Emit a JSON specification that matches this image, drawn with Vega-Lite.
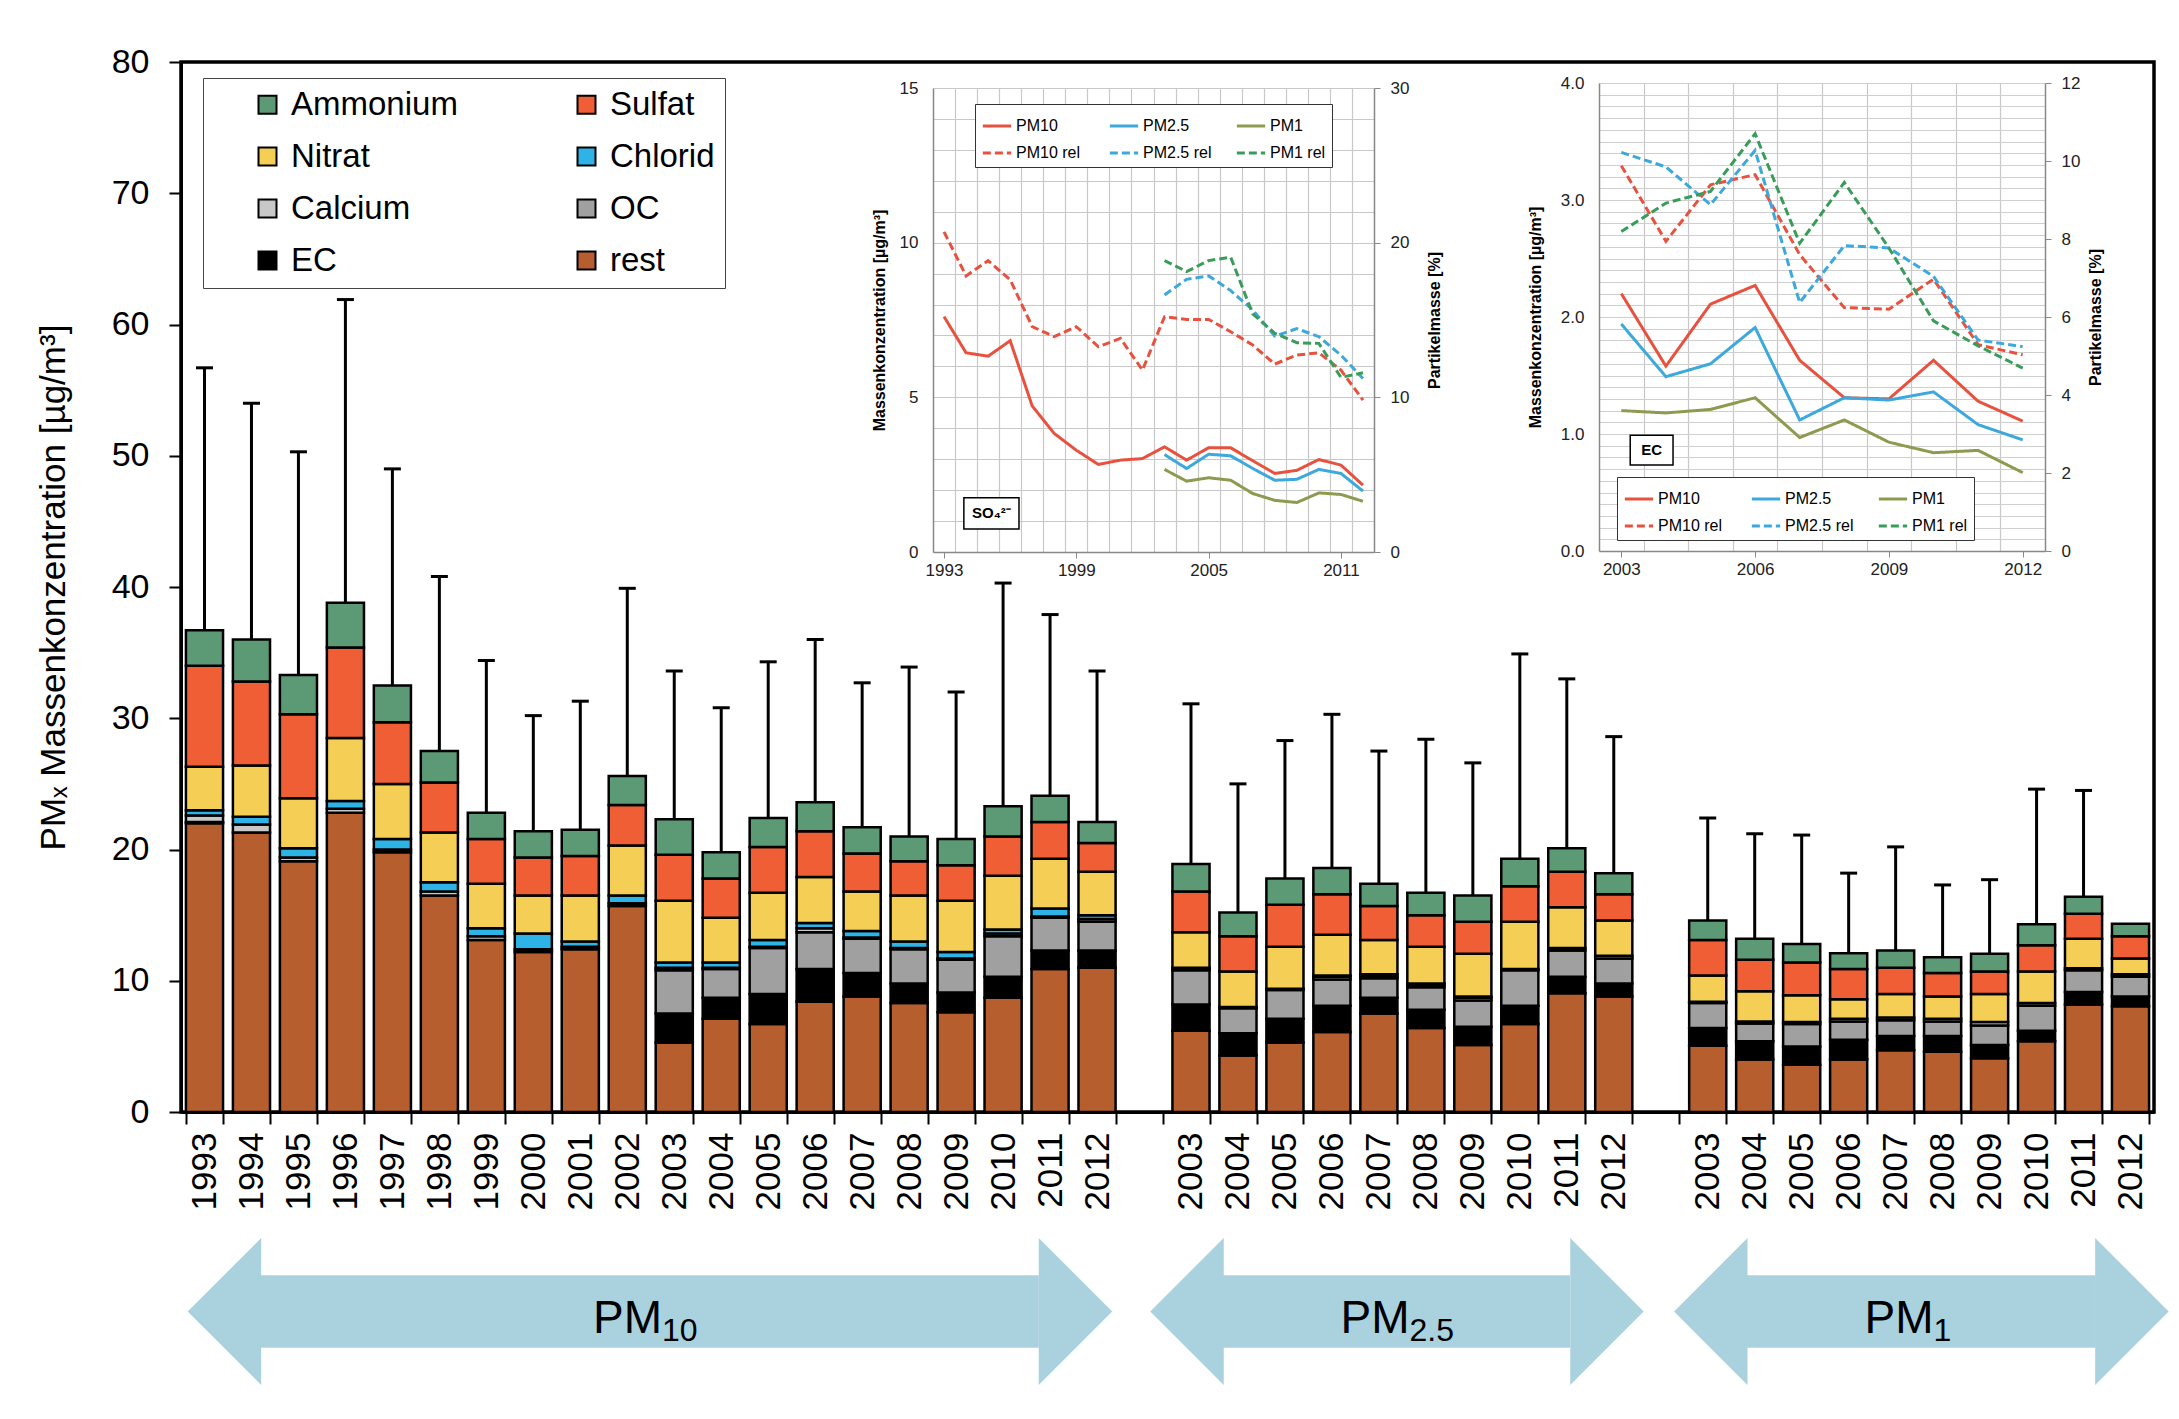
{
  "$schema": "https://vega.github.io/schema/vega-lite/v6.json",
  "width": 1973,
  "height": 1050,
  "autosize": {"type": "none"},
  "padding": {"left": 181, "top": 62, "right": 25, "bottom": 307},
  "background": "white",
  "config": {
    "font": "Liberation Sans",
    "view": {"stroke": "black", "strokeWidth": 3.5}
  },
  "datasets": {
    "bars": [
      {"g":"PM10","yr":1993,"rest":22.0,"EC":0.1,"OC":0,"Calcium":0.5,"Chlorid":0.4,"Nitrat":3.3,"Sulfat":7.7,"Ammonium":2.7,"err":56.7},
      {"g":"PM10","yr":1994,"rest":21.3,"EC":0,"OC":0,"Calcium":0.6,"Chlorid":0.6,"Nitrat":3.9,"Sulfat":6.4,"Ammonium":3.2,"err":54.0},
      {"g":"PM10","yr":1995,"rest":19.1,"EC":0,"OC":0,"Calcium":0.3,"Chlorid":0.7,"Nitrat":3.8,"Sulfat":6.4,"Ammonium":3.0,"err":50.3},
      {"g":"PM10","yr":1996,"rest":22.8,"EC":0,"OC":0,"Calcium":0.3,"Chlorid":0.6,"Nitrat":4.8,"Sulfat":6.9,"Ammonium":3.4,"err":61.9},
      {"g":"PM10","yr":1997,"rest":19.8,"EC":0.2,"OC":0,"Calcium":0,"Chlorid":0.8,"Nitrat":4.2,"Sulfat":4.7,"Ammonium":2.8,"err":49.0},
      {"g":"PM10","yr":1998,"rest":16.5,"EC":0,"OC":0,"Calcium":0.3,"Chlorid":0.7,"Nitrat":3.8,"Sulfat":3.8,"Ammonium":2.4,"err":40.8},
      {"g":"PM10","yr":1999,"rest":13.1,"EC":0,"OC":0,"Calcium":0.3,"Chlorid":0.6,"Nitrat":3.4,"Sulfat":3.4,"Ammonium":2.0,"err":34.4},
      {"g":"PM10","yr":2000,"rest":12.2,"EC":0.2,"OC":0,"Calcium":0,"Chlorid":1.2,"Nitrat":2.9,"Sulfat":2.9,"Ammonium":2.0,"err":30.2},
      {"g":"PM10","yr":2001,"rest":12.4,"EC":0,"OC":0,"Calcium":0.2,"Chlorid":0.4,"Nitrat":3.5,"Sulfat":3.0,"Ammonium":2.0,"err":31.3},
      {"g":"PM10","yr":2002,"rest":15.7,"EC":0.2,"OC":0,"Calcium":0,"Chlorid":0.6,"Nitrat":3.8,"Sulfat":3.1,"Ammonium":2.2,"err":39.9},
      {"g":"PM10","yr":2003,"rest":5.3,"EC":2.2,"OC":3.3,"Calcium":0.2,"Chlorid":0.4,"Nitrat":4.7,"Sulfat":3.5,"Ammonium":2.7,"err":33.6},
      {"g":"PM10","yr":2004,"rest":7.1,"EC":1.6,"OC":2.2,"Calcium":0.1,"Chlorid":0.4,"Nitrat":3.4,"Sulfat":3.0,"Ammonium":2.0,"err":30.8},
      {"g":"PM10","yr":2005,"rest":6.7,"EC":2.3,"OC":3.5,"Calcium":0.1,"Chlorid":0.5,"Nitrat":3.6,"Sulfat":3.5,"Ammonium":2.2,"err":34.3},
      {"g":"PM10","yr":2006,"rest":8.4,"EC":2.5,"OC":2.8,"Calcium":0.3,"Chlorid":0.4,"Nitrat":3.5,"Sulfat":3.5,"Ammonium":2.2,"err":36.0},
      {"g":"PM10","yr":2007,"rest":8.8,"EC":1.8,"OC":2.6,"Calcium":0.1,"Chlorid":0.5,"Nitrat":3.0,"Sulfat":2.9,"Ammonium":2.0,"err":32.7},
      {"g":"PM10","yr":2008,"rest":8.3,"EC":1.5,"OC":2.6,"Calcium":0.1,"Chlorid":0.5,"Nitrat":3.5,"Sulfat":2.6,"Ammonium":1.9,"err":33.9},
      {"g":"PM10","yr":2009,"rest":7.6,"EC":1.5,"OC":2.5,"Calcium":0.1,"Chlorid":0.5,"Nitrat":3.9,"Sulfat":2.7,"Ammonium":2.0,"err":32.0},
      {"g":"PM10","yr":2010,"rest":8.7,"EC":1.6,"OC":3.1,"Calcium":0.2,"Chlorid":0.3,"Nitrat":4.1,"Sulfat":3.0,"Ammonium":2.3,"err":40.3},
      {"g":"PM10","yr":2011,"rest":10.9,"EC":1.4,"OC":2.5,"Calcium":0.1,"Chlorid":0.6,"Nitrat":3.8,"Sulfat":2.8,"Ammonium":2.0,"err":37.9},
      {"g":"PM10","yr":2012,"rest":11.0,"EC":1.3,"OC":2.2,"Calcium":0.2,"Chlorid":0.3,"Nitrat":3.3,"Sulfat":2.2,"Ammonium":1.6,"err":33.6},
      {"g":"PM2.5","yr":2003,"rest":6.2,"EC":2.0,"OC":2.6,"Calcium":0.1,"Chlorid":0.1,"Nitrat":2.7,"Sulfat":3.1,"Ammonium":2.1,"err":31.1},
      {"g":"PM2.5","yr":2004,"rest":4.3,"EC":1.7,"OC":1.9,"Calcium":0.1,"Chlorid":0,"Nitrat":2.7,"Sulfat":2.7,"Ammonium":1.8,"err":25.0},
      {"g":"PM2.5","yr":2005,"rest":5.3,"EC":1.8,"OC":2.2,"Calcium":0.1,"Chlorid":0,"Nitrat":3.2,"Sulfat":3.2,"Ammonium":2.0,"err":28.3},
      {"g":"PM2.5","yr":2006,"rest":6.1,"EC":2.0,"OC":2.0,"Calcium":0.2,"Chlorid":0.1,"Nitrat":3.1,"Sulfat":3.1,"Ammonium":2.0,"err":30.3},
      {"g":"PM2.5","yr":2007,"rest":7.5,"EC":1.2,"OC":1.5,"Calcium":0.1,"Chlorid":0.2,"Nitrat":2.6,"Sulfat":2.6,"Ammonium":1.7,"err":27.5},
      {"g":"PM2.5","yr":2008,"rest":6.4,"EC":1.4,"OC":1.7,"Calcium":0.2,"Chlorid":0.1,"Nitrat":2.8,"Sulfat":2.4,"Ammonium":1.7,"err":28.4},
      {"g":"PM2.5","yr":2009,"rest":5.1,"EC":1.4,"OC":2.0,"Calcium":0.2,"Chlorid":0.1,"Nitrat":3.25,"Sulfat":2.45,"Ammonium":2.0,"err":26.6},
      {"g":"PM2.5","yr":2010,"rest":6.7,"EC":1.4,"OC":2.7,"Calcium":0.1,"Chlorid":0,"Nitrat":3.6,"Sulfat":2.7,"Ammonium":2.1,"err":34.9},
      {"g":"PM2.5","yr":2011,"rest":9.05,"EC":1.25,"OC":2.0,"Calcium":0.2,"Chlorid":0,"Nitrat":3.1,"Sulfat":2.7,"Ammonium":1.8,"err":33.0},
      {"g":"PM2.5","yr":2012,"rest":8.8,"EC":1.0,"OC":1.9,"Calcium":0.2,"Chlorid":0,"Nitrat":2.7,"Sulfat":2.0,"Ammonium":1.6,"err":28.6},
      {"g":"PM1","yr":2003,"rest":5.05,"EC":1.35,"OC":1.9,"Calcium":0.1,"Chlorid":0,"Nitrat":2.0,"Sulfat":2.7,"Ammonium":1.5,"err":22.4},
      {"g":"PM1","yr":2004,"rest":4.0,"EC":1.4,"OC":1.35,"Calcium":0.15,"Chlorid":0,"Nitrat":2.3,"Sulfat":2.4,"Ammonium":1.6,"err":21.2},
      {"g":"PM1","yr":2005,"rest":3.6,"EC":1.4,"OC":1.7,"Calcium":0.15,"Chlorid":0,"Nitrat":2.05,"Sulfat":2.5,"Ammonium":1.4,"err":21.1},
      {"g":"PM1","yr":2006,"rest":4.0,"EC":1.5,"OC":1.4,"Calcium":0.2,"Chlorid":0,"Nitrat":1.5,"Sulfat":2.3,"Ammonium":1.2,"err":18.2},
      {"g":"PM1","yr":2007,"rest":4.7,"EC":1.1,"OC":1.2,"Calcium":0.2,"Chlorid":0,"Nitrat":1.8,"Sulfat":2.0,"Ammonium":1.3,"err":20.2},
      {"g":"PM1","yr":2008,"rest":4.6,"EC":1.2,"OC":1.1,"Calcium":0.2,"Chlorid":0,"Nitrat":1.7,"Sulfat":1.8,"Ammonium":1.2,"err":17.3},
      {"g":"PM1","yr":2009,"rest":4.1,"EC":1.0,"OC":1.5,"Calcium":0.25,"Chlorid":0,"Nitrat":2.15,"Sulfat":1.7,"Ammonium":1.35,"err":17.7},
      {"g":"PM1","yr":2010,"rest":5.4,"EC":0.8,"OC":1.9,"Calcium":0.2,"Chlorid":0,"Nitrat":2.4,"Sulfat":2.0,"Ammonium":1.6,"err":24.6},
      {"g":"PM1","yr":2011,"rest":8.2,"EC":0.95,"OC":1.65,"Calcium":0.15,"Chlorid":0,"Nitrat":2.25,"Sulfat":1.9,"Ammonium":1.3,"err":24.5},
      {"g":"PM1","yr":2012,"rest":8.05,"EC":0.75,"OC":1.5,"Calcium":0.2,"Chlorid":0,"Nitrat":1.2,"Sulfat":1.7,"Ammonium":0.95,"err":null}
    ],
    "so4": [
      {"s":"PM10","yr":1993,"v":7.61},{"s":"PM10","yr":1994,"v":6.44},{"s":"PM10","yr":1995,"v":6.33},{"s":"PM10","yr":1996,"v":6.83},{"s":"PM10","yr":1997,"v":4.72},
      {"s":"PM10","yr":1998,"v":3.83},{"s":"PM10","yr":1999,"v":3.29},{"s":"PM10","yr":2000,"v":2.83},{"s":"PM10","yr":2001,"v":2.97},{"s":"PM10","yr":2002,"v":3.02},
      {"s":"PM10","yr":2003,"v":3.40},{"s":"PM10","yr":2004,"v":2.97},{"s":"PM10","yr":2005,"v":3.37},{"s":"PM10","yr":2006,"v":3.37},{"s":"PM10","yr":2007,"v":2.95},
      {"s":"PM10","yr":2008,"v":2.54},{"s":"PM10","yr":2009,"v":2.64},{"s":"PM10","yr":2010,"v":2.99},{"s":"PM10","yr":2011,"v":2.81},{"s":"PM10","yr":2012,"v":2.16},
      {"s":"PM2.5","yr":2003,"v":3.15},{"s":"PM2.5","yr":2004,"v":2.70},{"s":"PM2.5","yr":2005,"v":3.16},{"s":"PM2.5","yr":2006,"v":3.11},{"s":"PM2.5","yr":2007,"v":2.70},
      {"s":"PM2.5","yr":2008,"v":2.32},{"s":"PM2.5","yr":2009,"v":2.35},{"s":"PM2.5","yr":2010,"v":2.67},{"s":"PM2.5","yr":2011,"v":2.54},{"s":"PM2.5","yr":2012,"v":1.97},
      {"s":"PM1","yr":2003,"v":2.67},{"s":"PM1","yr":2004,"v":2.29},{"s":"PM1","yr":2005,"v":2.40},{"s":"PM1","yr":2006,"v":2.32},{"s":"PM1","yr":2007,"v":1.89},
      {"s":"PM1","yr":2008,"v":1.67},{"s":"PM1","yr":2009,"v":1.60},{"s":"PM1","yr":2010,"v":1.91},{"s":"PM1","yr":2011,"v":1.86},{"s":"PM1","yr":2012,"v":1.64},
      {"s":"PM10 rel","yr":1993,"v":20.7},{"s":"PM10 rel","yr":1994,"v":17.85},{"s":"PM10 rel","yr":1995,"v":18.84},{"s":"PM10 rel","yr":1996,"v":17.6},{"s":"PM10 rel","yr":1997,"v":14.57},
      {"s":"PM10 rel","yr":1998,"v":13.92},{"s":"PM10 rel","yr":1999,"v":14.57},{"s":"PM10 rel","yr":2000,"v":13.27},{"s":"PM10 rel","yr":2001,"v":13.81},{"s":"PM10 rel","yr":2002,"v":11.76},
      {"s":"PM10 rel","yr":2003,"v":15.21},{"s":"PM10 rel","yr":2004,"v":15.04},{"s":"PM10 rel","yr":2005,"v":15.04},{"s":"PM10 rel","yr":2006,"v":14.24},{"s":"PM10 rel","yr":2007,"v":13.38},
      {"s":"PM10 rel","yr":2008,"v":12.15},{"s":"PM10 rel","yr":2009,"v":12.73},{"s":"PM10 rel","yr":2010,"v":12.88},{"s":"PM10 rel","yr":2011,"v":11.76},{"s":"PM10 rel","yr":2012,"v":9.82},
      {"s":"PM2.5 rel","yr":2003,"v":16.62},{"s":"PM2.5 rel","yr":2004,"v":17.63},{"s":"PM2.5 rel","yr":2005,"v":17.85},{"s":"PM2.5 rel","yr":2006,"v":16.9},{"s":"PM2.5 rel","yr":2007,"v":15.65},
      {"s":"PM2.5 rel","yr":2008,"v":13.96},{"s":"PM2.5 rel","yr":2009,"v":14.44},{"s":"PM2.5 rel","yr":2010,"v":13.92},{"s":"PM2.5 rel","yr":2011,"v":12.73},{"s":"PM2.5 rel","yr":2012,"v":11.22},
      {"s":"PM1 rel","yr":2003,"v":18.84},{"s":"PM1 rel","yr":2004,"v":18.13},{"s":"PM1 rel","yr":2005,"v":18.84},{"s":"PM1 rel","yr":2006,"v":19.06},{"s":"PM1 rel","yr":2007,"v":15.39},
      {"s":"PM1 rel","yr":2008,"v":14.14},{"s":"PM1 rel","yr":2009,"v":13.53},{"s":"PM1 rel","yr":2010,"v":13.49},{"s":"PM1 rel","yr":2011,"v":11.29},{"s":"PM1 rel","yr":2012,"v":11.59}
    ],
    "ec": [
      {"s":"PM10","yr":2003,"v":2.20},{"s":"PM10","yr":2004,"v":1.58},{"s":"PM10","yr":2005,"v":2.11},{"s":"PM10","yr":2006,"v":2.27},{"s":"PM10","yr":2007,"v":1.63},
      {"s":"PM10","yr":2008,"v":1.31},{"s":"PM10","yr":2009,"v":1.30},{"s":"PM10","yr":2010,"v":1.63},{"s":"PM10","yr":2011,"v":1.28},{"s":"PM10","yr":2012,"v":1.11},
      {"s":"PM2.5","yr":2003,"v":1.94},{"s":"PM2.5","yr":2004,"v":1.49},{"s":"PM2.5","yr":2005,"v":1.60},{"s":"PM2.5","yr":2006,"v":1.91},{"s":"PM2.5","yr":2007,"v":1.12},
      {"s":"PM2.5","yr":2008,"v":1.31},{"s":"PM2.5","yr":2009,"v":1.29},{"s":"PM2.5","yr":2010,"v":1.36},{"s":"PM2.5","yr":2011,"v":1.08},{"s":"PM2.5","yr":2012,"v":0.95},
      {"s":"PM1","yr":2003,"v":1.20},{"s":"PM1","yr":2004,"v":1.18},{"s":"PM1","yr":2005,"v":1.21},{"s":"PM1","yr":2006,"v":1.31},{"s":"PM1","yr":2007,"v":0.97},
      {"s":"PM1","yr":2008,"v":1.12},{"s":"PM1","yr":2009,"v":0.93},{"s":"PM1","yr":2010,"v":0.84},{"s":"PM1","yr":2011,"v":0.86},{"s":"PM1","yr":2012,"v":0.67},
      {"s":"PM10 rel","yr":2003,"v":9.88},{"s":"PM10 rel","yr":2004,"v":7.94},{"s":"PM10 rel","yr":2005,"v":9.39},{"s":"PM10 rel","yr":2006,"v":9.65},{"s":"PM10 rel","yr":2007,"v":7.6},
      {"s":"PM10 rel","yr":2008,"v":6.24},{"s":"PM10 rel","yr":2009,"v":6.2},{"s":"PM10 rel","yr":2010,"v":6.97},{"s":"PM10 rel","yr":2011,"v":5.29},{"s":"PM10 rel","yr":2012,"v":5.03},
      {"s":"PM2.5 rel","yr":2003,"v":10.22},{"s":"PM2.5 rel","yr":2004,"v":9.85},{"s":"PM2.5 rel","yr":2005,"v":8.88},{"s":"PM2.5 rel","yr":2006,"v":10.27},{"s":"PM2.5 rel","yr":2007,"v":6.37},
      {"s":"PM2.5 rel","yr":2008,"v":7.83},{"s":"PM2.5 rel","yr":2009,"v":7.77},{"s":"PM2.5 rel","yr":2010,"v":7.04},{"s":"PM2.5 rel","yr":2011,"v":5.41},{"s":"PM2.5 rel","yr":2012,"v":5.24},
      {"s":"PM1 rel","yr":2003,"v":8.19},{"s":"PM1 rel","yr":2004,"v":8.92},{"s":"PM1 rel","yr":2005,"v":9.22},{"s":"PM1 rel","yr":2006,"v":10.7},{"s":"PM1 rel","yr":2007,"v":7.89},
      {"s":"PM1 rel","yr":2008,"v":9.45},{"s":"PM1 rel","yr":2009,"v":7.77},{"s":"PM1 rel","yr":2010,"v":5.9},{"s":"PM1 rel","yr":2011,"v":5.26},{"s":"PM1 rel","yr":2012,"v":4.69}
    ],
    "box1": [{"bx1":1993.9,"bx2":1996.4,"by1":0.74,"by2":1.75,"xc":1995.15,"yc":1.245,"t":"SO₄²⁻"}],
    "box2": [{"bx1":2003.2,"bx2":2004.16,"by1":0.735,"by2":0.99,"xc":2003.68,"yc":0.862,"t":"EC"}],
    "arrows": [
      {"a":"PM10","tl":0.15,"bl":1.70,"br":18.26,"tr":19.82},
      {"a":"PM2.5","tl":20.65,"bl":22.18,"br":29.57,"tr":31.14},
      {"a":"PM1","tl":31.80,"bl":33.33,"br":40.76,"tr":42.30}
    ],
    "arrowlabels": [
      {"a":"PM10","c":9.985,"m":"PM","sub":"10","z":0},
      {"a":"PM2.5","c":25.895,"m":"PM","sub":"2.5","z":0},
      {"a":"PM1","c":37.05,"m":"PM","sub":"1","z":0}
    ]
  },
  "resolve": {
    "scale": {"x": "independent", "y": "independent", "color": "independent", "strokeDash": "independent"},
    "axis": {"x": "independent", "y": "independent"},
    "legend": {"color": "independent", "strokeDash": "independent"}
  },
  "layer": [
    {
      "data": {"name": "bars"},
      "transform": [
        {"calculate": "datum.g + ' ' + datum.yr", "as": "key"},
        {"fold": ["rest","EC","OC","Calcium","Chlorid","Nitrat","Sulfat","Ammonium"], "as": ["c","v"]},
        {"filter": "datum.v > 0"},
        {"calculate": "indexof(['rest','EC','OC','Calcium','Chlorid','Nitrat','Sulfat','Ammonium'], datum.c)", "as": "k"}
      ],
      "mark": {"type": "bar", "stroke": "black", "strokeWidth": 2.5},
      "encoding": {
        "x": {
          "field": "key", "type": "nominal",
          "scale": {"type": "band", "paddingInner": 0.21, "paddingOuter": 0.105,
            "domain": ["PM10 1993","PM10 1994","PM10 1995","PM10 1996","PM10 1997","PM10 1998","PM10 1999","PM10 2000","PM10 2001","PM10 2002","PM10 2003","PM10 2004","PM10 2005","PM10 2006","PM10 2007","PM10 2008","PM10 2009","PM10 2010","PM10 2011","PM10 2012","gap1","PM2.5 2003","PM2.5 2004","PM2.5 2005","PM2.5 2006","PM2.5 2007","PM2.5 2008","PM2.5 2009","PM2.5 2010","PM2.5 2011","PM2.5 2012","gap2","PM1 2003","PM1 2004","PM1 2005","PM1 2006","PM1 2007","PM1 2008","PM1 2009","PM1 2010","PM1 2011","PM1 2012"]},
          "axis": {"orient": "bottom", "title": null, "grid": false,
            "labelExpr": "indexof(datum.label + '', 'gap') === 0 ? '' : substring(datum.label + '', length(datum.label + '') - 4)",
            "labelAngle": 270, "labelFontSize": 35, "labelPadding": 8, "labelColor": "black",
            "labelAlign": "right", "labelBaseline": "middle",
            "tickBand": "extent", "tickSize": 12, "tickWidth": 2, "tickColor": "black",
            "domainColor": "black", "domainWidth": 3}
        },
        "y": {
          "field": "v", "type": "quantitative", "stack": "zero",
          "scale": {"domain": [0, 80], "nice": false},
          "axis": {"orient": "left", "title": "PMₓ Massenkonzentration [µg/m³]", "grid": false,
            "values": [0,10,20,30,40,50,60,70,80],
            "tickSize": 12, "tickWidth": 2, "tickColor": "black", "domainColor": "black", "domainWidth": 3,
            "labelFontSize": 34, "labelPadding": 20, "labelColor": "black",
            "titleFontSize": 35, "titleFontWeight": "normal", "titleColor": "black", "titlePadding": 40}
        },
        "color": {
          "field": "c", "type": "nominal",
          "scale": {"domain": ["Ammonium","Nitrat","Calcium","EC","Sulfat","Chlorid","OC","rest"],
                    "range": ["#5c9a76","#f5cf55","#c8c8c8","#000000","#f05e35","#2eb3e6","#a0a0a0","#b65e2e"]},
          "legend": {"orient": "none", "legendX": 22, "legendY": 16, "columns": 2, "gridAlign": "all",
            "title": "\u00a0", "titleOrient": "left", "titleFontSize": 10, "titlePadding": 38, "titleColor": "white",
            "symbolType": "square", "symbolSize": 324, "symbolStrokeColor": "black", "symbolStrokeWidth": 2, "symbolOpacity": 1,
            "labelFontSize": 33, "labelColor": "black", "labelOffset": 7, "labelLimit": 400,
            "rowPadding": 18, "columnPadding": 112, "padding": 10,
            "strokeColor": "#444", "fillColor": "white"}
        },
        "order": {"field": "k", "type": "quantitative"}
      }
    },
    {
      "data": {"name": "bars"},
      "transform": [
        {"filter": "isValid(datum.err)"},
        {"calculate": "datum.g + ' ' + datum.yr", "as": "key"},
        {"calculate": "datum.rest + datum.EC + datum.OC + datum.Calcium + datum.Chlorid + datum.Nitrat + datum.Sulfat + datum.Ammonium", "as": "tot"}
      ],
      "mark": {"type": "rule", "strokeWidth": 3, "color": "black"},
      "encoding": {
        "x": {"field": "key", "type": "nominal", "axis": null,
          "scale": {"type": "band", "paddingInner": 0.21, "paddingOuter": 0.105,
            "domain": ["PM10 1993","PM10 1994","PM10 1995","PM10 1996","PM10 1997","PM10 1998","PM10 1999","PM10 2000","PM10 2001","PM10 2002","PM10 2003","PM10 2004","PM10 2005","PM10 2006","PM10 2007","PM10 2008","PM10 2009","PM10 2010","PM10 2011","PM10 2012","gap1","PM2.5 2003","PM2.5 2004","PM2.5 2005","PM2.5 2006","PM2.5 2007","PM2.5 2008","PM2.5 2009","PM2.5 2010","PM2.5 2011","PM2.5 2012","gap2","PM1 2003","PM1 2004","PM1 2005","PM1 2006","PM1 2007","PM1 2008","PM1 2009","PM1 2010","PM1 2011","PM1 2012"]}},
        "y": {"field": "tot", "type": "quantitative", "axis": null, "scale": {"domain": [0, 80], "nice": false}},
        "y2": {"field": "err"}
      }
    },
    {
      "data": {"name": "bars"},
      "transform": [
        {"filter": "isValid(datum.err)"},
        {"calculate": "datum.g + ' ' + datum.yr", "as": "key"}
      ],
      "mark": {"type": "tick", "size": 17, "thickness": 3, "color": "black", "opacity": 1},
      "encoding": {
        "x": {"field": "key", "type": "nominal", "axis": null,
          "scale": {"type": "band", "paddingInner": 0.21, "paddingOuter": 0.105,
            "domain": ["PM10 1993","PM10 1994","PM10 1995","PM10 1996","PM10 1997","PM10 1998","PM10 1999","PM10 2000","PM10 2001","PM10 2002","PM10 2003","PM10 2004","PM10 2005","PM10 2006","PM10 2007","PM10 2008","PM10 2009","PM10 2010","PM10 2011","PM10 2012","gap1","PM2.5 2003","PM2.5 2004","PM2.5 2005","PM2.5 2006","PM2.5 2007","PM2.5 2008","PM2.5 2009","PM2.5 2010","PM2.5 2011","PM2.5 2012","gap2","PM1 2003","PM1 2004","PM1 2005","PM1 2006","PM1 2007","PM1 2008","PM1 2009","PM1 2010","PM1 2011","PM1 2012"]}},
        "y": {"field": "err", "type": "quantitative", "axis": null, "scale": {"domain": [0, 80], "nice": false}}
      }
    },
    {
      "data": {"name": "so4"},
      "transform": [{"filter": "indexof(datum.s, 'rel') < 0"}],
      "mark": {"type": "line", "strokeWidth": 3},
      "encoding": {
        "x": {"field": "yr", "type": "quantitative",
          "scale": {"domain": [1992.5, 2012.5], "range": [752, 1193], "nice": false, "zero": false},
          "axis": {"orient": "bottom", "offset": -560, "title": null, "grid": false,
            "values": [1993, 1999, 2005, 2011], "format": "d",
            "labelFontSize": 17, "labelPadding": 4, "labelColor": "#222",
            "domainColor": "#888", "domainWidth": 1.5, "tickColor": "#888", "tickSize": 6}},
        "y": {"field": "v", "type": "quantitative",
          "scale": {"domain": [0, 15], "range": [490, 26], "nice": false, "zero": false},
          "axis": {"orient": "left", "offset": -752, "values": [0, 5, 10, 15], "grid": false,
            "domainColor": "#888", "domainWidth": 1.5, "tickSize": 0,
            "labelFontSize": 17, "labelPadding": 15, "labelColor": "#222",
            "title": "Massenkonzentration  [µg/m³]", "titleFontSize": 16, "titleFontWeight": "bold", "titleColor": "black", "titlePadding": 12}},
        "color": {"field": "s", "type": "nominal",
          "scale": {"domain": ["PM10","PM10 rel","PM2.5","PM2.5 rel","PM1","PM1 rel"],
                    "range": ["#e8513e","#e8513e","#3ca8dc","#3ca8dc","#8c9b4f","#3a9c5a"]},
          "legend": {"orient": "none", "legendX": 794, "legendY": 42, "columns": 3, "gridAlign": "all", "title": null,
            "symbolType": "stroke", "symbolSize": 800, "symbolStrokeWidth": 3,
            "labelFontSize": 16, "labelColor": "black", "labelOffset": 3, "labelLimit": 300,
            "rowPadding": 3, "columnPadding": 18, "padding": 6,
            "strokeColor": "#333", "fillColor": "white"}},
        "strokeDash": {"field": "s", "type": "nominal",
          "scale": {"domain": ["PM10","PM10 rel","PM2.5","PM2.5 rel","PM1","PM1 rel"],
                    "range": [[1,0],[8,4],[1,0],[8,4],[1,0],[8,4]]},
          "legend": {"orient": "none", "legendX": 794, "legendY": 42, "columns": 3, "gridAlign": "all", "title": null,
            "symbolType": "stroke", "symbolSize": 800, "symbolStrokeWidth": 3,
            "labelFontSize": 16, "labelColor": "black", "labelOffset": 3, "labelLimit": 300,
            "rowPadding": 3, "columnPadding": 18, "padding": 6,
            "strokeColor": "#333", "fillColor": "white"}}
      }
    },
    {
      "data": {"name": "so4"},
      "transform": [{"filter": "indexof(datum.s, 'rel') >= 0"}],
      "mark": {"type": "line", "strokeWidth": 3},
      "encoding": {
        "x": {"field": "yr", "type": "quantitative",
          "scale": {"domain": [1992.5, 2012.5], "range": [752, 1193], "nice": false, "zero": false},
          "axis": {"orient": "top", "offset": -26, "title": null, "labels": false, "ticks": false, "domain": false,
            "values": [1993.5,1994.5,1995.5,1996.5,1997.5,1998.5,1999.5,2000.5,2001.5,2002.5,2003.5,2004.5,2005.5,2006.5,2007.5,2008.5,2009.5,2010.5,2011.5],
            "grid": true, "gridColor": "#c8c8c8", "gridWidth": 1.2}},
        "y": {"field": "v", "type": "quantitative",
          "scale": {"domain": [0, 30], "range": [490, 26], "nice": false, "zero": false},
          "axis": {"orient": "right", "offset": -780, "values": [0,10,20,30], "grid": false,
            "domainColor": "#888", "domainWidth": 1.5, "tickColor": "#888", "tickSize": 6,
            "labelFontSize": 17, "labelPadding": 10, "labelColor": "#222",
            "title": "Partikelmasse [%]", "titleFontSize": 16, "titleFontWeight": "bold", "titleColor": "black",
            "titleAngle": 270, "titleBaseline": "top", "titlePadding": 18}},
        "color": {"field": "s", "type": "nominal", "legend": null,
          "scale": {"domain": ["PM10","PM10 rel","PM2.5","PM2.5 rel","PM1","PM1 rel"],
                    "range": ["#e8513e","#e8513e","#3ca8dc","#3ca8dc","#8c9b4f","#3a9c5a"]}},
        "strokeDash": {"field": "s", "type": "nominal", "legend": null,
          "scale": {"domain": ["PM10","PM10 rel","PM2.5","PM2.5 rel","PM1","PM1 rel"],
                    "range": [[1,0],[8,4],[1,0],[8,4],[1,0],[8,4]]}}
      }
    },
    {
      "data": {"name": "box1"},
      "mark": {"type": "rect", "fill": "white", "stroke": "black", "strokeWidth": 1.5},
      "encoding": {
        "x": {"field": "bx1", "type": "quantitative", "axis": null, "scale": {"domain": [1992.5, 2012.5], "range": [752, 1193], "nice": false, "zero": false}},
        "x2": {"field": "bx2"},
        "y": {"field": "by1", "type": "quantitative", "scale": {"domain": [0, 15], "range": [490, 26], "nice": false, "zero": false},
          "axis": {"orient": "left", "offset": -752, "title": null, "labels": false, "ticks": false, "domain": false,
            "values": [1,2,3,4,5,6,7,8,9,10,11,12,13,14,15], "grid": true, "gridColor": "#c8c8c8", "gridWidth": 1.2}},
        "y2": {"field": "by2"}
      }
    },
    {
      "data": {"name": "box1"},
      "mark": {"type": "text", "fontSize": 15, "fontWeight": "bold", "align": "center", "baseline": "middle", "color": "black"},
      "encoding": {
        "x": {"field": "xc", "type": "quantitative", "axis": null, "scale": {"domain": [1992.5, 2012.5], "range": [752, 1193], "nice": false, "zero": false}},
        "y": {"field": "yc", "type": "quantitative", "axis": null, "scale": {"domain": [0, 15], "range": [490, 26], "nice": false, "zero": false}},
        "text": {"field": "t"}
      }
    },
    {
      "data": {"name": "ec"},
      "transform": [{"filter": "indexof(datum.s, 'rel') < 0"}],
      "mark": {"type": "line", "strokeWidth": 3},
      "encoding": {
        "x": {"field": "yr", "type": "quantitative",
          "scale": {"domain": [2002.5, 2012.5], "range": [1418, 1864], "nice": false, "zero": false},
          "axis": {"orient": "bottom", "offset": -561, "title": null, "grid": false,
            "values": [2003, 2006, 2009, 2012], "format": "d",
            "labelFontSize": 17, "labelPadding": 4, "labelColor": "#222",
            "domainColor": "#888", "domainWidth": 1.5, "tickColor": "#888", "tickSize": 6}},
        "y": {"field": "v", "type": "quantitative",
          "scale": {"domain": [0, 4], "range": [489, 21], "nice": false, "zero": false},
          "axis": {"orient": "left", "offset": -1418, "values": [0, 1, 2, 3, 4], "format": ".1f", "grid": false,
            "domainColor": "#888", "domainWidth": 1.5, "tickSize": 0,
            "labelFontSize": 17, "labelPadding": 15, "labelColor": "#222",
            "title": "Massenkonzentration  [µg/m³]", "titleFontSize": 16, "titleFontWeight": "bold", "titleColor": "black", "titlePadding": 17}},
        "color": {"field": "s", "type": "nominal",
          "scale": {"domain": ["PM10","PM10 rel","PM2.5","PM2.5 rel","PM1","PM1 rel"],
                    "range": ["#e8513e","#e8513e","#3ca8dc","#3ca8dc","#8c9b4f","#3a9c5a"]},
          "legend": {"orient": "none", "legendX": 1436, "legendY": 415, "columns": 3, "gridAlign": "all", "title": null,
            "symbolType": "stroke", "symbolSize": 800, "symbolStrokeWidth": 3,
            "labelFontSize": 16, "labelColor": "black", "labelOffset": 3, "labelLimit": 300,
            "rowPadding": 3, "columnPadding": 18, "padding": 6,
            "strokeColor": "#333", "fillColor": "white"}},
        "strokeDash": {"field": "s", "type": "nominal",
          "scale": {"domain": ["PM10","PM10 rel","PM2.5","PM2.5 rel","PM1","PM1 rel"],
                    "range": [[1,0],[8,4],[1,0],[8,4],[1,0],[8,4]]},
          "legend": {"orient": "none", "legendX": 1436, "legendY": 415, "columns": 3, "gridAlign": "all", "title": null,
            "symbolType": "stroke", "symbolSize": 800, "symbolStrokeWidth": 3,
            "labelFontSize": 16, "labelColor": "black", "labelOffset": 3, "labelLimit": 300,
            "rowPadding": 3, "columnPadding": 18, "padding": 6,
            "strokeColor": "#333", "fillColor": "white"}}
      }
    },
    {
      "data": {"name": "ec"},
      "transform": [{"filter": "indexof(datum.s, 'rel') >= 0"}],
      "mark": {"type": "line", "strokeWidth": 3},
      "encoding": {
        "x": {"field": "yr", "type": "quantitative",
          "scale": {"domain": [2002.5, 2012.5], "range": [1418, 1864], "nice": false, "zero": false},
          "axis": {"orient": "top", "offset": -21, "title": null, "labels": false, "ticks": false, "domain": false,
            "values": [2003.5,2004.5,2005.5,2006.5,2007.5,2008.5,2009.5,2010.5,2011.5],
            "grid": true, "gridColor": "#c8c8c8", "gridWidth": 1.2}},
        "y": {"field": "v", "type": "quantitative",
          "scale": {"domain": [0, 12], "range": [489, 21], "nice": false, "zero": false},
          "axis": {"orient": "right", "offset": -109, "values": [0,2,4,6,8,10,12], "grid": false,
            "domainColor": "#888", "domainWidth": 1.5, "tickColor": "#888", "tickSize": 6,
            "labelFontSize": 17, "labelPadding": 10, "labelColor": "#222",
            "title": "Partikelmasse  [%]", "titleFontSize": 16, "titleFontWeight": "bold", "titleColor": "black",
            "titleAngle": 270, "titleBaseline": "top", "titlePadding": 8}},
        "color": {"field": "s", "type": "nominal", "legend": null,
          "scale": {"domain": ["PM10","PM10 rel","PM2.5","PM2.5 rel","PM1","PM1 rel"],
                    "range": ["#e8513e","#e8513e","#3ca8dc","#3ca8dc","#8c9b4f","#3a9c5a"]}},
        "strokeDash": {"field": "s", "type": "nominal", "legend": null,
          "scale": {"domain": ["PM10","PM10 rel","PM2.5","PM2.5 rel","PM1","PM1 rel"],
                    "range": [[1,0],[8,4],[1,0],[8,4],[1,0],[8,4]]}}
      }
    },
    {
      "data": {"name": "box2"},
      "mark": {"type": "rect", "fill": "white", "stroke": "black", "strokeWidth": 1.5},
      "encoding": {
        "x": {"field": "bx1", "type": "quantitative", "axis": null, "scale": {"domain": [2002.5, 2012.5], "range": [1418, 1864], "nice": false, "zero": false}},
        "x2": {"field": "bx2"},
        "y": {"field": "by1", "type": "quantitative", "scale": {"domain": [0, 4], "range": [489, 21], "nice": false, "zero": false},
          "axis": {"orient": "left", "offset": -1418, "title": null, "labels": false, "ticks": false, "domain": false,
            "values": [0.1,0.2,0.3,0.4,0.5,0.6,0.7,0.8,0.9,1,1.1,1.2,1.3,1.4,1.5,1.6,1.7,1.8,1.9,2,2.1,2.2,2.3,2.4,2.5,2.6,2.7,2.8,2.9,3,3.1,3.2,3.3,3.4,3.5,3.6,3.7,3.8,3.9,4],
            "grid": true, "gridColor": "#cfcfcf", "gridWidth": 1.2}},
        "y2": {"field": "by2"}
      }
    },
    {
      "data": {"name": "box2"},
      "mark": {"type": "text", "fontSize": 15, "fontWeight": "bold", "align": "center", "baseline": "middle", "color": "black"},
      "encoding": {
        "x": {"field": "xc", "type": "quantitative", "axis": null, "scale": {"domain": [2002.5, 2012.5], "range": [1418, 1864], "nice": false, "zero": false}},
        "y": {"field": "yc", "type": "quantitative", "axis": null, "scale": {"domain": [0, 4], "range": [489, 21], "nice": false, "zero": false}},
        "text": {"field": "t"}
      }
    },
    {
      "data": {"name": "arrows"},
      "mark": {"type": "rect", "color": "#a9d2de", "opacity": 1},
      "encoding": {
        "x": {"field": "bl", "type": "quantitative", "axis": null, "scale": {"domain": [0, 42], "nice": false, "zero": false}},
        "x2": {"field": "br"},
        "y": {"datum": -0.5, "type": "quantitative", "axis": null, "scale": {"domain": [-1, 1], "range": [1322, 1177], "nice": false, "zero": false}},
        "y2": {"datum": 0.5}
      }
    },
    {
      "data": {"name": "arrows"},
      "transform": [{"calculate": "(datum.tl + datum.bl) / 2", "as": "hx"}],
      "mark": {"type": "point", "shape": "M -1 0 L 1 -2 L 1 2 Z", "size": 5400, "filled": true, "color": "#a9d2de", "opacity": 1, "strokeWidth": 0},
      "encoding": {
        "x": {"field": "hx", "type": "quantitative", "axis": null, "scale": {"domain": [0, 42], "nice": false, "zero": false}},
        "y": {"datum": 0, "type": "quantitative", "axis": null, "scale": {"domain": [-1, 1], "range": [1322, 1177], "nice": false, "zero": false}}
      }
    },
    {
      "data": {"name": "arrows"},
      "transform": [{"calculate": "(datum.br + datum.tr) / 2", "as": "hx"}],
      "mark": {"type": "point", "shape": "M 1 0 L -1 -2 L -1 2 Z", "size": 5400, "filled": true, "color": "#a9d2de", "opacity": 1, "strokeWidth": 0},
      "encoding": {
        "x": {"field": "hx", "type": "quantitative", "axis": null, "scale": {"domain": [0, 42], "nice": false, "zero": false}},
        "y": {"datum": 0, "type": "quantitative", "axis": null, "scale": {"domain": [-1, 1], "range": [1322, 1177], "nice": false, "zero": false}}
      }
    },
    {
      "data": {"name": "arrowlabels"},
      "mark": {"type": "text", "align": "right", "baseline": "alphabetic", "dx": 12, "dy": 21, "fontSize": 46, "color": "black"},
      "encoding": {
        "x": {"field": "c", "type": "quantitative", "axis": null, "scale": {"domain": [0, 42], "nice": false, "zero": false}},
        "y": {"field": "z", "type": "quantitative", "axis": null, "scale": {"domain": [-1, 1], "range": [1322, 1177], "nice": false, "zero": false}},
        "text": {"field": "m"}
      }
    },
    {
      "data": {"name": "arrowlabels"},
      "mark": {"type": "text", "align": "left", "baseline": "alphabetic", "dx": 12, "dy": 29, "fontSize": 32, "color": "black"},
      "encoding": {
        "x": {"field": "c", "type": "quantitative", "axis": null, "scale": {"domain": [0, 42], "nice": false, "zero": false}},
        "y": {"field": "z", "type": "quantitative", "axis": null, "scale": {"domain": [-1, 1], "range": [1322, 1177], "nice": false, "zero": false}},
        "text": {"field": "sub"}
      }
    }
  ]
}
